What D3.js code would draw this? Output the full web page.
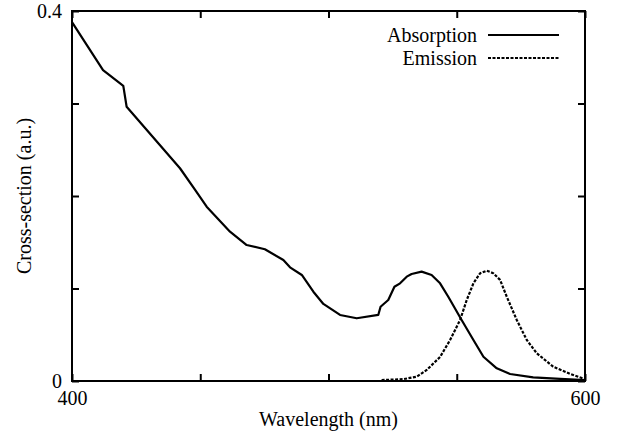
<!DOCTYPE html>
<html>
<head>
<meta charset="utf-8">
<script src="https://d3js.org/d3.v7.min.js"></script>
<style>
  body { margin: 0; background: #fff; }
</style>
</head>
<body>
<svg id="vis"></svg>
<script>
  // data
  var absWl  = [400, 412.1, 420.0, 421.3, 442.1, 448.0, 452.5, 461.6, 468.1, 475.2, 482.4, 485.0, 489.6, 494.1, 498.0, 504.5, 511.0, 519.4, 520.3, 523.3, 525.7, 527.9, 530.5, 532.4, 536.3, 540.2, 543.5, 546.7, 551.9, 556.5, 560.4, 565.6, 570.8, 579.8, 590.3, 600]
  var absVal = [0.388, 0.336, 0.319, 0.2965, 0.230, 0.2065, 0.1884, 0.1614, 0.147, 0.1424, 0.1308, 0.1229, 0.1146, 0.0965, 0.0833, 0.0714, 0.0678, 0.0714, 0.0803, 0.0876, 0.1019, 0.1056, 0.1128, 0.1157, 0.1182, 0.1146, 0.1056, 0.0911, 0.0659, 0.0443, 0.0262, 0.0137, 0.0076, 0.004, 0.0022, 0.0011]

  var emWl  = [520.7, 529.2, 534.4, 538.3, 543.5, 547.4, 551.3, 553.9, 556.5, 559.1, 561.7, 564.3, 566.9, 569.5, 573.4, 577.3, 581.2, 587.6, 594.2, 600]
  var emVal = [0.001, 0.002, 0.0047, 0.0119, 0.026, 0.0443, 0.066, 0.0876, 0.1056, 0.1164, 0.1193, 0.1164, 0.1092, 0.0911, 0.0659, 0.0443, 0.03, 0.0155, 0.0076, 0.002]

  var xTicks = [400, 450, 500, 550, 600]
  var yTicks = [0, 0.1, 0.2, 0.3, 0.4]
  var xLabels = {400: "400", 600: "600"}
  var yLabels = {0: "0", 0.4: "0.4"}

  var FONT = "'Liberation Serif', 'Times New Roman', Times, 'DejaVu Serif', serif"

  var margin = {top: 11, right: 46, bottom: 51, left: 72}
  var W = 631, H = 432
  var width = W - margin.left - margin.right
  var height = H - margin.top - margin.bottom

  var svg = d3.select('#vis').attr('width', W).attr('height', H)
    .style('font-family', FONT)
  var g = svg.append('g').attr('transform', 'translate(' + margin.left + ',' + margin.top + ')')

  var x = d3.scaleLinear().domain([400, 600]).range([0, width])
  var y = d3.scaleLinear().domain([0, 0.4]).range([height, 0])

  function styleAxis(sel) {
    sel.attr('font-family', null).attr('font-size', null)
    sel.select('.domain').remove()
    sel.selectAll('.tick line').attr('stroke', '#000').attr('stroke-width', 2)
    sel.selectAll('.tick text').attr('fill', '#000')
      .style('font-family', FONT).style('font-size', '20px')
  }

  g.append('g')
    .attr('transform', 'translate(0,' + height + ')')
    .call(d3.axisBottom(x).tickValues(xTicks).tickSizeInner(-7).tickSizeOuter(0).tickPadding(10)
      .tickFormat(function(d) { return xLabels[d] || '' }))
    .call(styleAxis)

  g.append('g')
    .call(d3.axisTop(x).tickValues(xTicks).tickSizeInner(-7).tickSizeOuter(0).tickFormat(''))
    .call(styleAxis)

  g.append('g')
    .call(d3.axisLeft(y).tickValues(yTicks).tickSizeInner(-7).tickSizeOuter(0).tickPadding(10)
      .tickFormat(function(d) { return yLabels[d] || '' }))
    .call(styleAxis)

  g.append('g')
    .attr('transform', 'translate(' + width + ',0)')
    .call(d3.axisRight(y).tickValues(yTicks).tickSizeInner(-7).tickSizeOuter(0).tickFormat(''))
    .call(styleAxis)

  // frame
  g.append('rect')
    .attr('x', 0).attr('y', 0).attr('width', width).attr('height', height)
    .attr('fill', 'none').attr('stroke', '#000').attr('stroke-width', 2)

  var line = d3.line()
    .x(function(d) { return x(d[0]) })
    .y(function(d) { return y(d[1]) })

  g.append('path')
    .datum(absWl.map(function(w, i) { return [w, absVal[i]] }))
    .attr('d', line)
    .attr('fill', 'none').attr('stroke', '#000').attr('stroke-width', 2.2)
    .attr('stroke-linejoin', 'round')

  g.append('path')
    .datum(emWl.map(function(w, i) { return [w, emVal[i]] }))
    .attr('d', line)
    .attr('fill', 'none').attr('stroke', '#000').attr('stroke-width', 2.2)
    .attr('stroke-dasharray', '3,1.5')

  // legend
  var legend = [{name: 'Absorption', dash: null}, {name: 'Emission', dash: '3,1.5'}]
  legend.forEach(function(l, i) {
    var ly = 24 + i * 23
    g.append('text')
      .attr('x', 405).attr('y', ly).attr('dy', '0.35em')
      .attr('text-anchor', 'end')
      .style('font-family', FONT).style('font-size', '20px')
      .text(l.name)
    g.append('line')
      .attr('x1', 416).attr('x2', 487).attr('y1', ly).attr('y2', ly)
      .attr('stroke', '#000').attr('stroke-width', 2.2)
      .attr('stroke-dasharray', l.dash)
  })

  // axis titles
  svg.append('text')
    .attr('x', margin.left + width / 2).attr('y', 426)
    .attr('text-anchor', 'middle')
    .style('font-family', FONT).style('font-size', '20px')
    .text('Wavelength (nm)')

  svg.append('text')
    .attr('transform', 'translate(31,' + (margin.top + height / 2) + ') rotate(-90)')
    .attr('text-anchor', 'middle')
    .style('font-family', FONT).style('font-size', '20px')
    .text('Cross-section (a.u.)')
</script>
</body>
</html>
